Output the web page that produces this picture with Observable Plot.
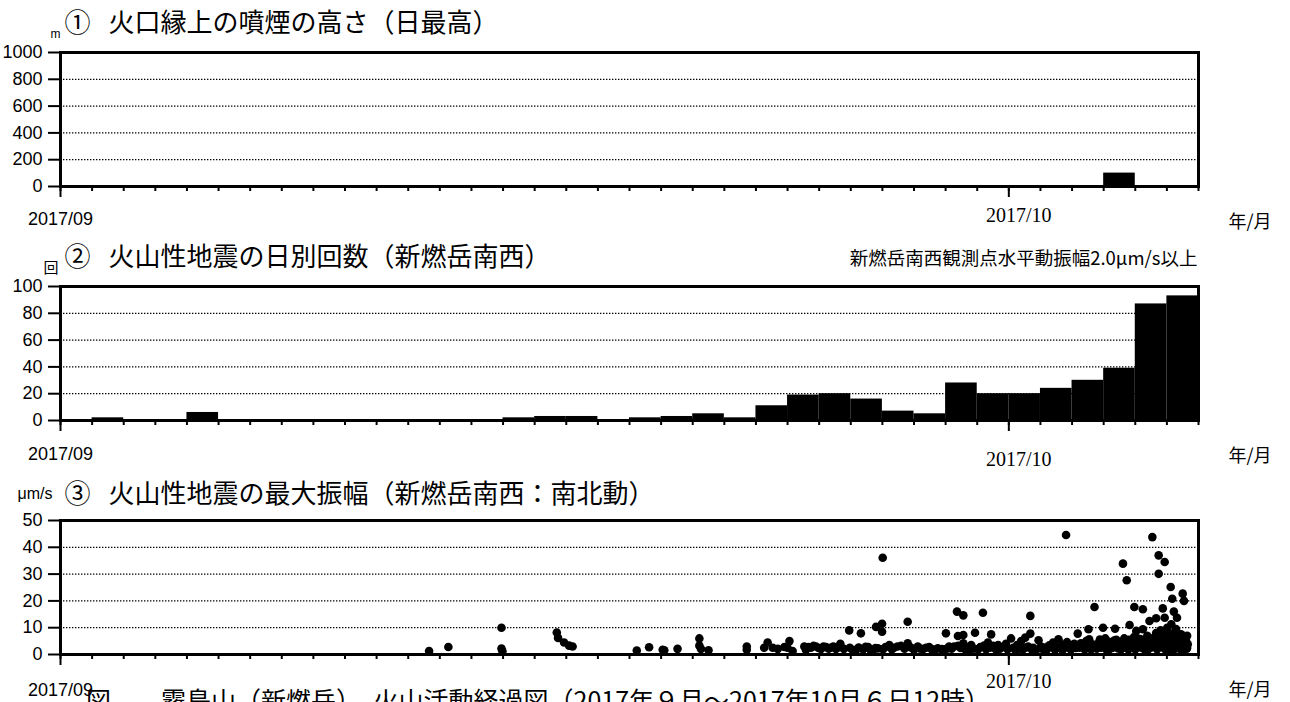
<!DOCTYPE html>
<html>
<head>
<meta charset="utf-8">
<script src="https://cdn.jsdelivr.net/npm/d3@7"></script>
<script src="https://cdn.jsdelivr.net/npm/@observablehq/plot@0.6"></script>
<style>
  html, body { margin: 0; padding: 0; background: #fff; }
  #wrap { position: relative; width: 1290px; height: 702px; overflow: hidden; background: #fff; }
  #wrap svg { display: block; }
  .caption { position: absolute; left: 86px; top: 687px; font-family: "Noto Sans CJK JP"; font-size: 25px; line-height: 1; white-space: pre; color: #000; }
</style>
</head>
<body>
<div id="wrap"></div>
<script>
// Time axis
const xStart = "2017-09-01";
const xEnd = "2017-10-07";
const monthTicks = ["2017-09-01", "2017-10-01"];
const monthLabels = ["2017/09", "2017/10"];

// Y tick values of the three panels
const heightTicks = [0, 200, 400, 600, 800, 1000];
const countTicks = [0, 20, 40, 60, 80, 100];
const ampTicks = [0, 10, 20, 30, 40, 50];

// ① daily maximum plume height above the crater rim (m)
const plumeDays = ["2017-10-04"];
const plumeHeights = [100];

// ② daily number of volcanic earthquakes (SW of Shinmoedake)
const quakeDays = [
  "2017-09-02", "2017-09-05", "2017-09-15", "2017-09-16", "2017-09-17",
  "2017-09-19", "2017-09-20", "2017-09-21", "2017-09-22", "2017-09-23",
  "2017-09-24", "2017-09-25", "2017-09-26", "2017-09-27", "2017-09-28",
  "2017-09-29", "2017-09-30", "2017-10-01", "2017-10-02", "2017-10-03",
  "2017-10-04", "2017-10-05", "2017-10-06"
];
const quakeCounts = [2, 6, 2, 3, 3, 2, 3, 5, 2, 11, 19, 20, 16, 7, 5, 28, 20, 20, 24, 30, 39, 87, 93];

// ③ maximum amplitude of each event: [days after 2017-09-01 00:00, μm/s]
const ampEvents = [
  [11.66, 1.3], [12.27, 2.8], [13.95, 10.0], [13.95, 2.2], [13.98, 1.2],
  [15.70, 8.2], [15.74, 6.2], [15.93, 4.5], [16.09, 3.3], [16.20, 3.0],
  [18.23, 1.5], [18.62, 2.7], [19.05, 1.8], [19.10, 1.6], [19.52, 2.1],
  [20.21, 6.0], [20.21, 3.3], [20.26, 2.1], [20.50, 1.6],
  [21.71, 3.0], [21.71, 1.8],
  [22.26, 2.5], [22.37, 4.5], [22.53, 2.5], [22.69, 2.1], [22.90, 2.8], [23.00, 2.5], [23.06, 5.0], [23.16, 1.3],
  [23.53, 3.0], [23.58, 1.8], [23.66, 2.8], [23.74, 2.5], [23.82, 3.2], [23.90, 3.0], [23.98, 2.4], [24.06, 2.1],
  [24.14, 3.0], [24.22, 2.8], [24.30, 2.2], [24.37, 2.5], [24.45, 3.0], [24.53, 2.1], [24.60, 2.6], [24.67, 4.0], [24.78, 2.1],
  [24.95, 9.0], [24.97, 2.5], [25.05, 1.8], [25.17, 1.8], [25.32, 7.9], [25.25, 2.6], [25.39, 2.0], [25.47, 2.9],
  [25.55, 2.8], [25.62, 1.8], [25.70, 1.6], [25.78, 2.4], [25.80, 10.3], [25.86, 2.3],
  [25.99, 11.5], [25.99, 8.5], [26.01, 36.1], [26.02, 2.0], [26.10, 2.8], [26.22, 3.5], [26.30, 2.0], [26.37, 2.5],
  [26.48, 3.0], [26.59, 3.2], [26.70, 2.2], [26.80, 4.2], [26.80, 12.2], [26.90, 2.6],
  [27.00, 1.8], [27.12, 3.0], [27.20, 2.2], [27.28, 2.0], [27.38, 2.5], [27.48, 2.8], [27.56, 2.0], [27.64, 1.5], [27.75, 2.3], [27.88, 2.0],
  [28.01, 7.9], [28.01, 2.0], [28.11, 3.0], [28.19, 2.2], [28.27, 3.0], [28.36, 16.0], [28.39, 6.9], [28.39, 3.2], [28.47, 2.4],
  [28.56, 14.6], [28.56, 7.3], [28.56, 4.2], [28.62, 2.0], [28.68, 2.5], [28.75, 1.8], [28.81, 3.5], [28.88, 2.2], [28.93, 8.1],
  [29.03, 2.0], [29.10, 2.8], [29.18, 15.6], [29.22, 3.3], [29.28, 2.0], [29.34, 4.5], [29.40, 2.5], [29.44, 7.5], [29.50, 3.2],
  [29.54, 2.5], [29.60, 1.8], [29.66, 3.5], [29.72, 2.2], [29.82, 2.8], [29.91, 4.0], [29.96, 2.0],
  [30.07, 6.0], [30.14, 2.5], [30.20, 1.8], [30.26, 3.5], [30.32, 2.2], [30.39, 5.0], [30.45, 2.0], [30.52, 6.3], [30.56, 2.6],
  [30.61, 3.0], [30.68, 14.4], [30.68, 7.8], [30.72, 2.0], [30.77, 2.5], [30.86, 1.7], [30.94, 5.3], [30.98, 2.4],
  [31.02, 3.0], [31.10, 1.8], [31.16, 2.6], [31.21, 2.0], [31.28, 3.4], [31.34, 3.0], [31.40, 4.5], [31.46, 1.8], [31.50, 2.3],
  [31.57, 5.7], [31.62, 2.8], [31.66, 3.8], [31.70, 1.7], [31.75, 2.5], [31.81, 44.6], [31.84, 4.6], [31.88, 3.5], [31.93, 2.2],
  [31.97, 2.0], [32.02, 3.2], [32.07, 4.0], [32.12, 2.4], [32.18, 7.8], [32.23, 2.5], [32.28, 4.2], [32.35, 3.5], [32.40, 2.0],
  [32.45, 5.0], [32.50, 3.0], [32.52, 9.4], [32.54, 5.7], [32.60, 2.0], [32.64, 3.8], [32.71, 17.7], [32.73, 3.0], [32.78, 2.2],
  [32.83, 4.2], [32.88, 5.6],
  [32.92, 2.5], [32.98, 10.0], [33.00, 3.6], [33.05, 6.0], [33.08, 2.0], [33.11, 3.5], [33.14, 4.8], [33.17, 2.0], [33.20, 3.0],
  [33.24, 4.5], [33.27, 2.4], [33.30, 3.0], [33.33, 5.2], [33.36, 9.6], [33.40, 5.5], [33.43, 3.5], [33.46, 2.3], [33.49, 4.6],
  [33.52, 4.0], [33.55, 2.0], [33.59, 3.0], [33.61, 33.9], [33.63, 5.0], [33.65, 6.0], [33.68, 2.6], [33.71, 4.0], [33.73, 27.7],
  [33.76, 3.2], [33.78, 2.0], [33.80, 5.5],
  [33.82, 11.0], [33.84, 3.8], [33.87, 5.0], [33.90, 2.4], [33.93, 3.0], [33.96, 6.5], [33.97, 17.7], [34.00, 2.0], [34.03, 8.8],
  [34.05, 4.4], [34.07, 6.0], [34.10, 2.8], [34.13, 4.0], [34.16, 5.8], [34.19, 2.5], [34.22, 3.6], [34.24, 16.9], [34.24, 9.4],
  [34.26, 5.0], [34.29, 2.0], [34.32, 3.0], [34.35, 4.8], [34.38, 7.0], [34.41, 2.0], [34.43, 3.5], [34.45, 12.5], [34.48, 4.5],
  [34.51, 2.6], [34.54, 43.8], [34.54, 6.0], [34.57, 3.8], [34.60, 3.0], [34.63, 5.2], [34.66, 13.5], [34.66, 8.0], [34.69, 2.0],
  [34.71, 4.2], [34.74, 37.0], [34.74, 30.1], [34.76, 5.0], [34.78, 2.8],
  [34.80, 9.0], [34.82, 3.5], [34.84, 6.0], [34.87, 17.2], [34.88, 6.5], [34.90, 2.4], [34.93, 34.5], [34.93, 13.7], [34.95, 2.0],
  [34.97, 4.5], [34.98, 7.5], [35.01, 10.0], [35.02, 3.2], [35.04, 7.0], [35.05, 5.0], [35.07, 3.0], [35.09, 2.0], [35.10, 6.2],
  [35.12, 25.2], [35.13, 4.0], [35.14, 11.3], [35.14, 5.5], [35.16, 2.6], [35.17, 20.8], [35.17, 2.0], [35.19, 7.8], [35.20, 3.6],
  [35.22, 16.0], [35.23, 8.0], [35.24, 5.0], [35.26, 4.0], [35.27, 2.2], [35.29, 9.5], [35.30, 6.5], [35.32, 13.7], [35.32, 6.0],
  [35.34, 3.0], [35.36, 2.5], [35.37, 4.8], [35.39, 3.5], [35.41, 7.0], [35.42, 5.0], [35.44, 2.0], [35.45, 7.5], [35.47, 3.8],
  [35.49, 4.0], [35.50, 22.7], [35.52, 2.0], [35.53, 5.8], [35.54, 20.0], [35.55, 6.0], [35.57, 3.2], [35.58, 3.0], [35.60, 4.4],
  [35.61, 5.0], [35.63, 2.2], [35.64, 2.5], [35.64, 7.0], [35.66, 3.8]
];

const caption = "図　　霧島山（新燃岳）　火山活動経過図（2017年９月～2017年10月６日12時）";

const utc = s => new Date(s + "T00:00:00Z");
const t0 = utc(xStart);
const domainX = [t0, utc(xEnd)];
const dayTicks = d3.utcDay.range(domainX[0], d3.utcDay.offset(domainX[1], 1));
const months = monthTicks.map(utc);
const JP = "Noto Sans CJK JP";

function label(text, anchor, o) {
  return Plot.text([text], {frameAnchor: anchor, lineAnchor: "middle", fill: "black", fontFamily: JP, ...o});
}

function panel(c) {
  const ticks = c.ticks;
  return Plot.plot({
    width: 1290,
    height: 234,
    marginLeft: 60,
    marginRight: 92,
    marginTop: 52,
    marginBottom: 48,
    style: {fontFamily: "Liberation Sans", fontSize: "18px", color: "black", background: "white", overflow: "visible"},
    x: {type: "utc", domain: domainX},
    y: {domain: [ticks[0], ticks[ticks.length - 1]]},
    marks: [
      Plot.gridY(ticks.slice(1, -1), {stroke: "black", strokeOpacity: 1, strokeWidth: 1.2, strokeDasharray: "1.4 1.6"}),
      ...c.data,
      Plot.axisY(ticks, {tickSize: 12, tickPadding: 6, strokeWidth: 2, fontSize: 18, label: null, tickFormat: d => String(d)}),
      Plot.axisX(dayTicks, {tickSize: 5, strokeWidth: 2, tickFormat: () => "", label: null}),
      Plot.axisX(months, {tickSize: 11, strokeWidth: 2, tickFormat: () => "", label: null}),
      Plot.text([months[0]], {x: d => d, text: () => monthLabels[0], frameAnchor: "bottom", lineAnchor: "middle", dy: c.sepDy, fontSize: 18, fill: "black"}),
      Plot.text([months[1]], {x: d => d, text: () => monthLabels[1], frameAnchor: "bottom", lineAnchor: "middle", dx: 10, dy: c.octDy, fontSize: 20, fontFamily: "Liberation Sans Narrow", fill: "black"}),
      Plot.frame({stroke: "black", strokeWidth: 3}),
      label(c.num, "top-left", {dx: 4, dy: c.titleDy, fontSize: 26, textAnchor: "start"}),
      label(c.title, "top-left", {dx: 48, dy: c.titleDy, fontSize: 26, textAnchor: "start"}),
      label(c.unit, "top-left", {dx: c.unitDx, dy: c.unitDy, fontSize: c.unitSize, fontFamily: c.unitFont, textAnchor: "start"}),
      label("年/月", "bottom-right", {dx: 30, dy: c.ymDy, fontSize: 18, textAnchor: "start"}),
      ...(c.extra || [])
    ]
  });
}

const plume = plumeDays.map((d, i) => ({date: utc(d), height: plumeHeights[i]}));
const quakes = quakeDays.map((d, i) => ({date: utc(d), count: quakeCounts[i]}));

const wrap = document.getElementById("wrap");

wrap.append(panel({
  ticks: heightTicks,
  num: "①", title: "火口縁上の噴煙の高さ（日最高）", titleDy: -29,
  unit: "m", unitFont: "Liberation Sans", unitSize: 12, unitDx: -10, unitDy: -18,
  sepDy: 33, octDy: 29.5, ymDy: 35.5,
  data: [
    Plot.rectY(plume, {x1: "date", x2: d => d3.utcDay.offset(d.date, 1), y: "height", fill: "black", inset: 0})
  ]
}));

wrap.append(panel({
  ticks: countTicks,
  num: "②", title: "火山性地震の日別回数（新燃岳南西）", titleDy: -29,
  unit: "回", unitFont: JP, unitSize: 15, unitDx: -17, unitDy: -18.5,
  sepDy: 33.5, octDy: 39, ymDy: 35.5,
  data: [
    Plot.rectY(quakes, {x1: "date", x2: d => d3.utcDay.offset(d.date, 1), y: "count", fill: "black", inset: 0})
  ],
  extra: [
    label("新燃岳南西観測点水平動振幅2.0μm/s以上", "top-right", {dx: -1, dy: -27.5, fontSize: 18.5, textAnchor: "end"})
  ]
}));

wrap.append(panel({
  ticks: ampTicks,
  num: "③", title: "火山性地震の最大振幅（新燃岳南西：南北動）", titleDy: -25.5,
  unit: "μm/s", unitFont: "Liberation Sans", unitSize: 16, unitDx: -43, unitDy: -27,
  sepDy: 35.5, octDy: 27, ymDy: 36,
  data: [
    Plot.dot(ampEvents, {x: d => new Date(+t0 + d[0] * 864e5), y: d => d[1], r: 4.3, fill: "black"})
  ]
}));

const cap = document.createElement("div");
cap.className = "caption";
cap.textContent = caption;
wrap.append(cap);
</script>
</body>
</html>
